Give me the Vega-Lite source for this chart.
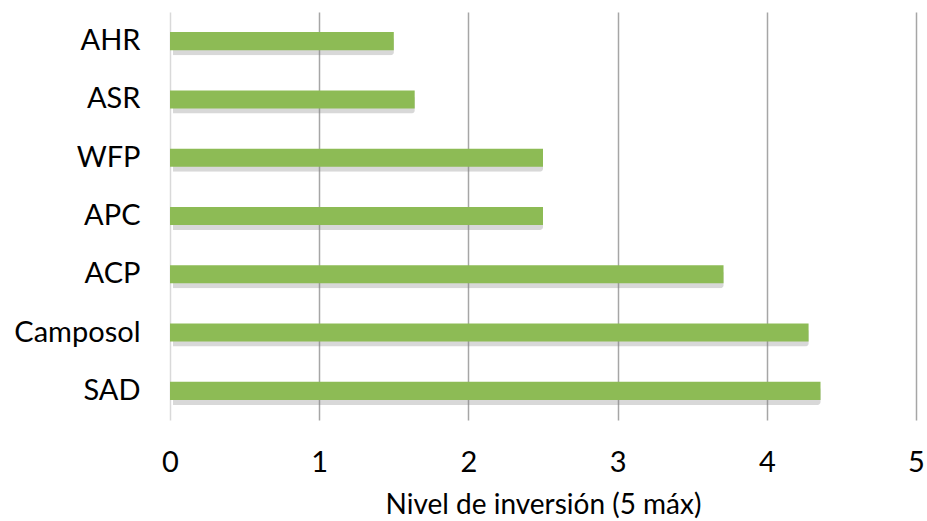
{
  "$schema": "https://vega.github.io/schema/vega-lite/v6.json",
  "width": 746,
  "height": 408,
  "autosize": {"type": "none"},
  "padding": {"left": 170, "top": 12, "right": 11, "bottom": 101},
  "background": "white",
  "config": {"view": {"stroke": null}, "font": "Lato"},
  "data": {
    "values": [
      {"org": "AHR", "nivel": 1.5},
      {"org": "ASR", "nivel": 1.64},
      {"org": "WFP", "nivel": 2.5},
      {"org": "APC", "nivel": 2.5},
      {"org": "ACP", "nivel": 3.71},
      {"org": "Camposol", "nivel": 4.28},
      {"org": "SAD", "nivel": 4.36}
    ]
  },
  "encoding": {
    "y": {
      "field": "org",
      "type": "nominal",
      "sort": ["AHR", "ASR", "WFP", "APC", "ACP", "Camposol", "SAD"],
      "scale": {"paddingInner": 0.69, "paddingOuter": 0.345},
      "axis": {
        "title": null,
        "domain": false,
        "ticks": false,
        "labelFontSize": 29,
        "labelColor": "#000000",
        "labelPadding": 30,
        "labelFont": "Lato"
      }
    },
    "x": {
      "field": "nivel",
      "type": "quantitative",
      "scale": {"domain": [0, 5], "nice": false},
      "axis": {
        "values": [0, 1, 2, 3, 4, 5],
        "title": "Nivel de inversión (5 máx)",
        "titleFontSize": 28,
        "titleFontWeight": "normal",
        "titleColor": "#000000",
        "titlePadding": 14,
        "titleFont": "Lato",
        "labelFontSize": 29,
        "labelColor": "#000000",
        "labelPadding": 28,
        "labelFlush": false,
        "labelFont": "Lato",
        "domain": false,
        "ticks": false,
        "grid": true,
        "gridWidth": 1.5,
        "gridColor": {"condition": {"test": "datum.value === 0", "value": "#d9d9d9"}, "value": "#a6a6a6"}
      }
    }
  },
  "layer": [
    {
      "mark": {"type": "bar", "color": "#7f7f7f", "opacity": 0.3, "xOffset": 3, "yOffset": 5, "cornerRadius": 3}
    },
    {
      "mark": {"type": "bar", "color": "#8dbb55"}
    }
  ]
}
